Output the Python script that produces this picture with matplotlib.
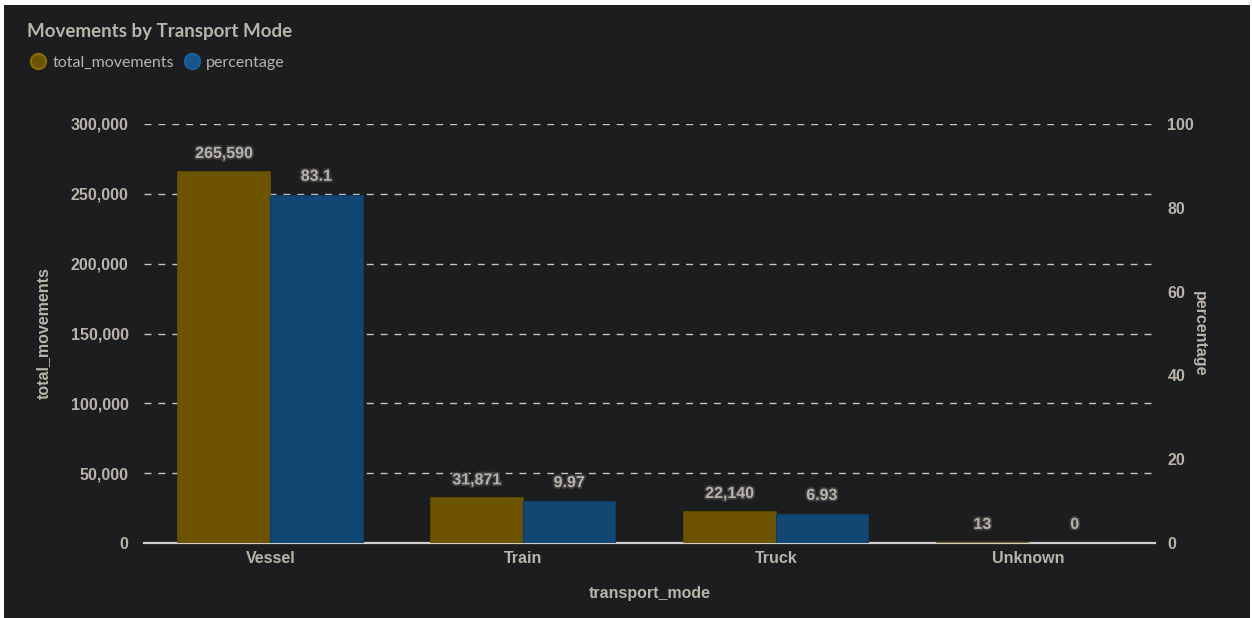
import numpy as np
import matplotlib.pyplot as plt
import matplotlib.patheffects as pe
from matplotlib.patches import Rectangle
from matplotlib.lines import Line2D
from matplotlib.ticker import FuncFormatter

plt.rcParams["font.family"] = ["Liberation Sans", "DejaVu Sans"]

modes = ["Vessel", "Train", "Truck", "Unknown"]
total_movements = [265590, 31871, 22140, 13]
percentage = [83.1, 9.97, 6.93, 0]
pct_labels = ["83.1", "9.97", "6.93", "0"]

bg = "#1c1d1f"
txt = "#b9b3aa"
gold = "#6b5300"
blue = "#124673"

fig = plt.figure(figsize=(12.52, 6.18), dpi=100, facecolor="white")
fig.patches.append(Rectangle((4 / 1252, 0), 1246 / 1252, 613 / 618,
                             transform=fig.transFigure, facecolor=bg,
                             edgecolor="none", zorder=-10))

ax = fig.add_axes([144 / 1252, 1 - 543 / 618, 1011 / 1252, 419 / 618])
ax.set_facecolor("none")
ax2 = ax.twinx()
ax2.set_facecolor("none")

x = np.arange(len(modes))
w = 0.365
ax.bar(x - w / 2, total_movements, w, color=gold, edgecolor="#6b5300", linewidth=1.2, zorder=6)
ax2.bar(x + w / 2, percentage, w, color=blue, edgecolor="#0f3b62", linewidth=0.8, zorder=3)

ax.set_xlim(-0.5, 3.5)
ax.set_ylim(0, 300000)
ax2.set_ylim(0, 100)
ax.set_yticks(np.arange(0, 300001, 50000))
ax2.set_yticks(np.arange(0, 101, 20))
ax.yaxis.set_major_formatter(FuncFormatter(lambda v, p: f"{int(v):,}"))

for a in (ax, ax2):
    for s in a.spines.values():
        s.set_visible(False)
    a.tick_params(length=0, colors=txt, labelsize=11.5)
    for lab in a.get_yticklabels() + a.get_xticklabels():
        lab.set_fontweight("bold")
ax.spines["bottom"].set_visible(True)
ax.spines["bottom"].set_color("#cfcfcf")
ax.spines["bottom"].set_linewidth(1.6)
ax.spines["bottom"].set_zorder(5)

ax.tick_params(axis="y", pad=11)
ax2.tick_params(axis="y", pad=9)
ax.set_xticks(x)
ax.set_xticklabels(modes, fontweight="bold")
ax.tick_params(axis="x", pad=6)

ax.yaxis.grid(True, linestyle=(0, (5, 5)), color="#c4c4c4", linewidth=1)
ax.set_axisbelow(True)
ax.set_xlabel("transport_mode", color=txt, fontsize=11.5, fontweight="bold", labelpad=14)
ax.set_ylabel("total_movements", color=txt, fontsize=11.5, fontweight="bold", labelpad=14)
ax2.set_ylabel("percentage", color=txt, fontsize=11.5, fontweight="bold", rotation=-90, labelpad=9)

halo = [pe.withStroke(linewidth=2.5, foreground="#3c3c3c")]
for i in range(len(modes)):
    ax.annotate(f"{total_movements[i]:,}", (x[i] - w / 2, total_movements[i]),
                xytext=(0, 8), textcoords="offset points", ha="center", va="bottom",
                color=txt, fontsize=11.5, fontweight="bold", path_effects=halo, zorder=7)
    ax2.annotate(pct_labels[i], (x[i] + w / 2, percentage[i]),
                 xytext=(0, 8), textcoords="offset points", ha="center", va="bottom",
                 color=txt, fontsize=11.5, fontweight="bold", path_effects=halo, zorder=7)

fig.text(27 / 1252, 1 - 32 / 618, "Movements by Transport Mode", color=txt,
         fontsize=13.5, fontweight="bold", family="Lato", va="center")

handles = [Line2D([], [], marker="o", linestyle="none", markersize=11,
                  markerfacecolor="#6b5300", markeredgecolor="#8a6c00", markeredgewidth=1.5),
           Line2D([], [], marker="o", linestyle="none", markersize=11,
                  markerfacecolor="#17548c", markeredgecolor="#1d5f9c", markeredgewidth=1.5)]
leg = fig.legend(handles, ["total_movements", "percentage"], loc="center left",
                 bbox_to_anchor=(16 / 1252, 1 - 63 / 618), ncol=2, frameon=False,
                 handletextpad=0.4, columnspacing=0.6, handlelength=1.0,
                 prop={"family": "Lato", "size": 11.5})
for t in leg.get_texts():
    t.set_color(txt)

fig.savefig("out.png", dpi=100, facecolor=fig.get_facecolor())
